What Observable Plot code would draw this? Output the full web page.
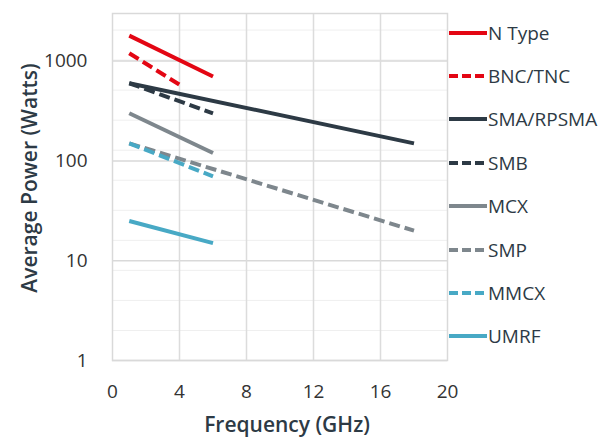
<!DOCTYPE html>
<html>
<head>
<meta charset="utf-8">
<script src="https://cdn.jsdelivr.net/npm/d3@7"></script>
<script src="https://cdn.jsdelivr.net/npm/@observablehq/plot@0.6"></script>
<style>
  body { margin: 0; background: #fff; font-family: "Open Sans", Roboto, sans-serif; }
  #wrap { position: relative; width: 609px; height: 437px; }
  #legend { position: absolute; left: 449px; top: 11px; }
  .item { display: flex; align-items: center; height: 43.4px; font-size: 19px; color: #2d3a45; white-space: nowrap; }
  .item svg { margin-right: 1px; }
</style>
</head>
<body>
<div id="wrap"><div id="legend"></div></div>
<script>
const series = ["N Type", "BNC/TNC", "SMA/RPSMA", "SMB", "MCX", "SMP", "MMCX", "UMRF"];
const freqStart = [1, 1, 1, 1, 1, 1, 1, 1];
const freqEnd = [6, 4, 18, 6, 6, 18, 6, 6];
const powerStart = [1800, 1200, 600, 600, 300, 150, 150, 25];
const powerEnd = [700, 580, 150, 300, 120, 20, 70, 15];
const colors = ["#e30613", "#e30613", "#2d3a45", "#2d3a45", "#7e878d", "#7e878d", "#48a9c5", "#48a9c5"];
const dashed = [false, true, false, true, false, true, true, false];
const xTicks = [0, 4, 8, 12, 16, 20];
const yTicks = [1, 10, 100, 1000];
const yMinor = [2, 4, 8, 16, 32, 64, 128, 256, 512, 1024, 2048];

const rows = [];
series.forEach((s, i) => {
  rows.push({series: s, f: freqStart[i], p: powerStart[i], i});
  rows.push({series: s, f: freqEnd[i], p: powerEnd[i], i});
});

const lineMarks = series.map((s, i) =>
  Plot.line(rows.filter(d => d.i === i), {
    x: "f", y: "p",
    stroke: colors[i], strokeWidth: 4,
    strokeDasharray: dashed[i] ? "11,5" : null,
    strokeLinecap: "butt"
  })
);

const chart = Plot.plot({
  width: 609, height: 437,
  marginLeft: 112, marginRight: 162, marginTop: 13, marginBottom: 77,
  style: {fontFamily: "'Open Sans', Roboto, sans-serif", fontSize: "19px", color: "#333"},
  x: {domain: [0, 20], ticks: xTicks, label: null},
  y: {type: "log", domain: [1, 3000], ticks: yTicks, tickFormat: d3.format("d"), label: null},
  marks: [
    Plot.ruleY(yMinor, {stroke: "#efefef", strokeWidth: 1}),
    Plot.ruleY(yTicks, {stroke: "#d9d9d9", strokeWidth: 1.5}),
    Plot.ruleX([4, 8, 12, 16], {stroke: "#dcdcdc", strokeWidth: 1.5}),
    Plot.frame({stroke: "#d9d9d9", strokeWidth: 1.5}),
    Plot.axisX({ticks: xTicks, tickSize: 0, tickPadding: 24, label: null, fontSize: 19}),
    Plot.axisY({ticks: yTicks, tickSize: 0, tickPadding: 25, tickFormat: d3.format("d"), label: null, fontSize: 19}),
    ...lineMarks
  ]
});

const svg = d3.select(chart);
svg.append("text")
  .attr("x", 287).attr("y", 432)
  .attr("text-anchor", "middle")
  .attr("font-size", 21).attr("font-weight", 600).attr("fill", "#2d3a45")
  .text("Frequency (GHz)");
svg.append("text")
  .attr("transform", "translate(29,178) rotate(-90)")
  .attr("text-anchor", "middle").attr("dominant-baseline", "central")
  .attr("font-size", 21).attr("font-weight", 600).attr("fill", "#2d3a45")
  .text("Average Power (Watts)");

document.getElementById("wrap").prepend(chart);
chart.style.position = "absolute";
chart.style.left = "0";
chart.style.top = "0";

const legend = d3.select("#legend");
series.forEach((s, i) => {
  const item = legend.append("div").attr("class", "item");
  const sv = item.append("svg").attr("width", 38).attr("height", 6);
  sv.append("line").attr("x1", 0).attr("x2", 38).attr("y1", 3).attr("y2", 3)
    .attr("stroke", colors[i]).attr("stroke-width", 4)
    .attr("stroke-dasharray", dashed[i] ? "9,4" : null);
  item.append("span").text(s);
});
</script>
</body>
</html>
